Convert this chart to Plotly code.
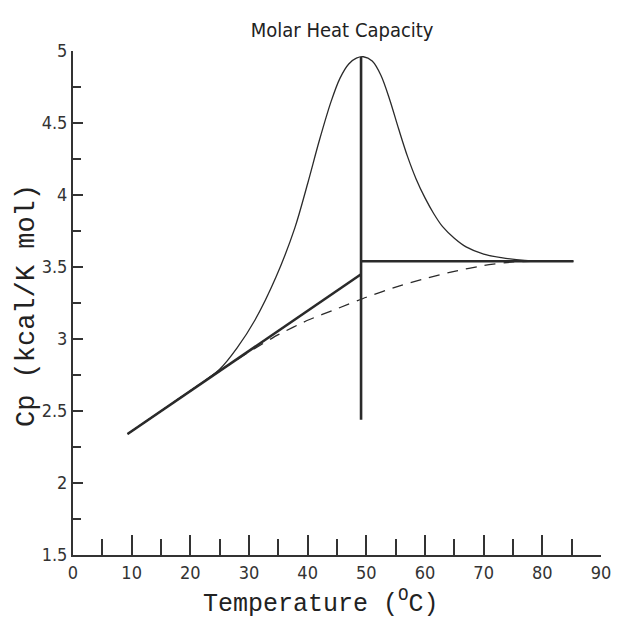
import plotly.graph_objects as go

# Measured heat capacity curve (thin)
curve_t = [9.3, 15, 20, 25, 28, 31, 34.6, 37.8, 40.0, 42.0, 44.0, 45.5, 47.0, 48.3, 49.5,
           51.0, 52.5, 54.0, 55.5, 57.0, 58.5, 60.0, 61.5, 63.0, 65.0, 67.0, 70.0, 73.0, 77.0, 80.0, 85.3]
curve_cp = [2.34, 2.50, 2.64, 2.79, 2.94, 3.13, 3.43, 3.77, 4.08, 4.38, 4.65, 4.81, 4.91, 4.95, 4.96,
            4.93, 4.83, 4.66, 4.46, 4.27, 4.11, 3.98, 3.87, 3.78, 3.70, 3.64, 3.59, 3.565, 3.545, 3.54, 3.54]

# Dashed progress baseline
base_t = [9.3, 20, 25, 30, 35, 40, 45, 50, 55, 60, 65, 70, 75, 78, 85.3]
base_cp = [2.34, 2.64, 2.78, 2.91, 3.03, 3.13, 3.21, 3.29, 3.36, 3.42, 3.47, 3.51, 3.535, 3.54, 3.54]

# Pre-transition linear baseline (thick)
pre_t = [9.3, 49.1]
pre_cp = [2.34, 3.45]

# Post-transition baseline (thick)
post_t = [49.1, 85.3]
post_cp = [3.54, 3.54]

# Transition midpoint vertical line
tm_t = [49.1, 49.1]
tm_cp = [2.44, 4.96]

x_ticks = [0, 10, 20, 30, 40, 50, 60, 70, 80, 90]
y_ticks = [1.5, 2, 2.5, 3, 3.5, 4, 4.5, 5]
y_ticktext = ["1.5", "2", "2.5", "3", "3.5", "4", "4.5", "5"]

line_col = "#2a2a2a"

fig = go.Figure()
fig.add_trace(go.Scatter(x=curve_t, y=curve_cp, mode="lines",
                         line=dict(color=line_col, width=1.3, shape="spline", smoothing=0.9)))
fig.add_trace(go.Scatter(x=base_t, y=base_cp, mode="lines",
                         line=dict(color=line_col, width=1.3, dash="11px,8px", shape="spline", smoothing=0.6)))
fig.add_trace(go.Scatter(x=pre_t, y=pre_cp, mode="lines", line=dict(color=line_col, width=2.6)))
fig.add_trace(go.Scatter(x=post_t, y=post_cp, mode="lines", line=dict(color=line_col, width=2.6)))
fig.add_trace(go.Scatter(x=tm_t, y=tm_cp, mode="lines", line=dict(color=line_col, width=2.6)))

narrow = "Liberation Sans Narrow, DejaVu Sans Condensed, Arial Narrow, sans-serif"
mono = "Liberation Mono, DejaVu Sans Mono, monospace"
tick_font = dict(family=narrow, size=18, color="#333")

fig.update_layout(
    width=621, height=621,
    margin=dict(l=73, r=10, t=51, b=66),
    paper_bgcolor="white", plot_bgcolor="white",
    showlegend=False,
    title=dict(text="Molar Heat Capacity", x=0.551, xanchor="center", y=0.952, yanchor="middle",
               font=dict(family=narrow, size=20, color="#222")),
    xaxis=dict(range=[0, 90], tickvals=x_ticks,
               ticks="inside", ticklen=20, tickwidth=1.5, tickcolor="#333",
               minor=dict(dtick=5, tick0=0, ticks="inside", ticklen=16, tickwidth=1.5, tickcolor="#333"),
               showline=True, linecolor="#333", linewidth=2, showgrid=False, zeroline=False,
               tickfont=tick_font, ticklabeloverflow="allow"),
    yaxis=dict(range=[1.5, 5], tickvals=y_ticks, ticktext=y_ticktext,
               ticks="inside", ticklen=10, tickwidth=1.5, tickcolor="#333",
               minor=dict(dtick=0.25, tick0=1.5, ticks="inside", ticklen=8, tickwidth=1.5, tickcolor="#333"),
               showline=True, linecolor="#333", linewidth=2, showgrid=False, zeroline=False,
               tickfont=tick_font, ticklabeloverflow="allow"),
    annotations=[
        dict(text="Temperature (<sup>O</sup>C)", xref="paper", yref="paper", x=0.47, y=-0.094,
             xanchor="center", yanchor="middle", showarrow=False,
             font=dict(family=mono, size=25, color="#222")),
        dict(text="Cp (kcal/K mol)", xref="paper", yref="paper", x=-0.088, y=0.495,
             xanchor="center", yanchor="middle", textangle=-90, showarrow=False,
             font=dict(family=mono, size=27, color="#222")),
    ],
)

fig.write_html("out.html")
